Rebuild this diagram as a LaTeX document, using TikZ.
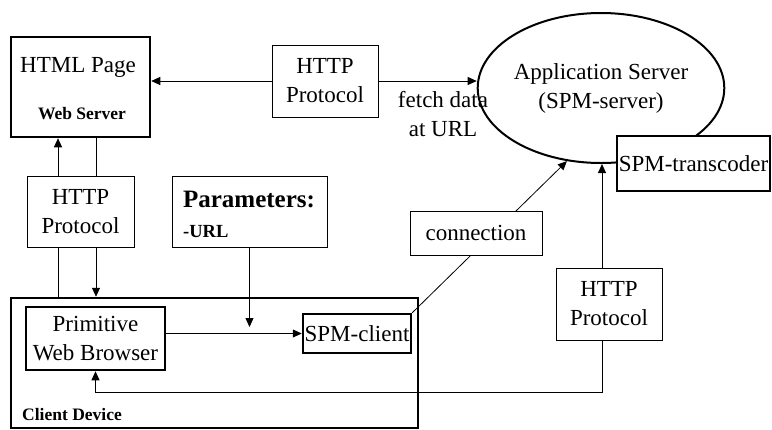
\documentclass[tikz,border=0pt]{standalone}
\usepackage{fontspec}
\setmainfont{Liberation Serif}
\usetikzlibrary{shapes.geometric, arrows.meta, positioning}
\tikzset{
x=1pt, y=-1pt, % one unit is one point, y runs downwards
>={Triangle[length=9pt, width=8pt]}, % solid arrow heads
every node/.style={font=\fontsize{23}{29}\selectfont, inner sep=0pt, align=center},
box/.style={draw, fill=white, line width=0.8pt}, % thin boxes round the protocol labels
thickbox/.style={draw, fill=white, line width=2.5pt}, % the components
tag/.style={font=\fontsize{17.5}{20}\selectfont\bfseries}, % small bold captions
}

\begin{document}
\begin{tikzpicture}
    \useasboundingbox (0,0) rectangle (772,429);
    % web server side
    \node[thickbox, minimum width=139pt, minimum height=100pt] (html) at (80.5,87) {};
    \node (htmltxt) at (78,67) {HTML Page};
    \node[tag] (webtag) at (82,114) {Web Server};
    \node[box, minimum width=106pt, minimum height=72pt] (tophttp) at (325,81) {HTTP\\Protocol};
    \node[box, minimum width=107pt, minimum height=71pt] (lhttp) at (80.5,211.5) {HTTP\\Protocol};
    \node[box, minimum width=155pt, minimum height=71pt] (params) at (249.5,211.5) {};
    \node[font=\fontsize{25}{30}\selectfont\bfseries] (partxt) at (249,199) {Parameters:};
    \node[tag, anchor=west, font=\fontsize{18.5}{20}\selectfont\bfseries] (urltxt) at (183,232) {-URL};
    % client device
    \node[thickbox, minimum width=407pt, minimum height=130pt] (client) at (214.5,363) {};
    \node[tag, anchor=west] (devtag) at (22,415) {Client Device};
    \node[thickbox, minimum width=139pt, minimum height=63pt] (browser) at (95.5,338.5) {Primitive\\Web Browser};
    \node[thickbox, minimum width=108pt, minimum height=39pt] (spmclient) at (357,333.5) {SPM-client};
    % application server
    \node[ellipse, draw, line width=2pt, minimum width=202pt, minimum height=150pt] (appsrv) at (601,88) {Application Server\\(SPM-server)};
    \node[thickbox, minimum width=153pt, minimum height=55pt] (transcoder) at (693.5,163.5) {SPM-transcoder};
    \node (fetch) at (443,114) {fetch data\\at URL};
    \node[box, minimum width=106pt, minimum height=72pt] (rhttp) at (609,304) {HTTP\\Protocol};
    \coordinate (urlin) at (249.5,327);

    \draw[line width=0.8pt]
    (tophttp.west) edge[->] (tophttp.west -| html.east)
    (tophttp.east) edge[->] (tophttp.east -| appsrv.west)
    ([xshift=-22.5pt]lhttp.north) edge[->] ([xshift=-22.5pt]lhttp.north |- html.south)
    ([xshift=15.5pt]lhttp.north |- html.south) edge ([xshift=15.5pt]lhttp.north)
    ([xshift=-22.5pt]lhttp.south) edge ([xshift=-22.5pt]lhttp.south |- client.north)
    ([xshift=15.5pt]lhttp.south) edge[->] ([xshift=15.5pt]lhttp.south |- client.north)
    (params.south) edge[->] (urlin)
    (browser.east |- spmclient.west) edge[->] (spmclient.west)
    ([xshift=-7pt]rhttp.north) edge[->] ([xshift=-7pt]rhttp.north |- appsrv.south);
    \draw[->, line width=0.8pt] ([xshift=-7pt]rhttp.south) -- ++(0,52) -| (browser.south);
    \draw[->, line width=0.8pt] (spmclient.north east) -- (appsrv.245);
    \node[box, minimum width=132pt, minimum height=44pt] (conn) at (476,233) {connection};
\end{tikzpicture}
\end{document}
